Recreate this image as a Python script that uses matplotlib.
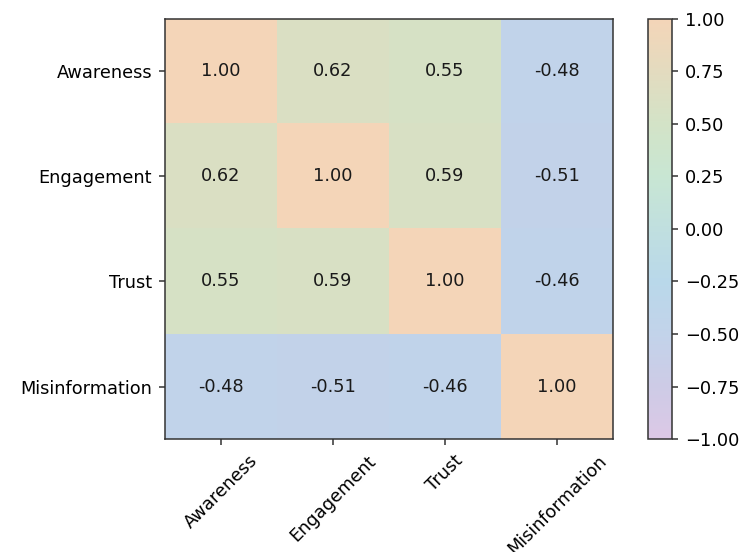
import matplotlib
matplotlib.use("Agg")
import matplotlib.pyplot as plt
import numpy as np
from matplotlib.colors import LinearSegmentedColormap

labels = ["Awareness", "Engagement", "Trust", "Misinformation"]
corr = np.array([
    [1.00, 0.62, 0.55, -0.48],
    [0.62, 1.00, 0.59, -0.51],
    [0.55, 0.59, 1.00, -0.46],
    [-0.48, -0.51, -0.46, 1.00],
])

# pastel diverging map (-1 -> +1)
stops = [0.0, 0.125, 0.25, 0.375, 0.5, 0.625, 0.75, 0.875, 1.0]
stop_colors = ["#dcc8e6", "#cdcbe6", "#c2d3ea", "#b9d8ea", "#c0dfdf",
               "#c8e6d3", "#d3e3c7", "#e3dbbf", "#f4d5b8"]
cmap = LinearSegmentedColormap.from_list("pastel", list(zip(stops, stop_colors)))

fig = plt.figure(figsize=(7.39, 5.52), dpi=100)
ax = fig.add_axes([0.2233, 0.2047, 0.6062, 0.7609])
cax = fig.add_axes([0.8769, 0.2047, 0.0325, 0.7609])

im = ax.imshow(corr, cmap=cmap, vmin=-1, vmax=1, aspect="auto")
ax.set_xticks(range(len(labels)))
ax.set_yticks(range(len(labels)))
ax.set_xticklabels(labels, rotation=45, fontsize=12.8)
ax.set_yticklabels(labels, fontsize=12.8)
ax.tick_params(length=4.6, width=1.1, pad=4.6, color="#333333")
for i in range(len(labels)):
    for j in range(len(labels)):
        ax.text(j, i, f"{corr[i, j]:.2f}", ha="center", va="center",
                fontsize=12.8, color="#1a1a1a")
for s in ax.spines.values():
    s.set_color("#333333")
    s.set_linewidth(1.1)

cb = fig.colorbar(im, cax=cax)
cb.set_ticks([-1, -0.75, -0.5, -0.25, 0, 0.25, 0.5, 0.75, 1])
cb.ax.tick_params(labelsize=12.8, length=4.6, width=1.1, pad=4.6, color="#333333")
cb.outline.set_edgecolor("#333333")
cb.outline.set_linewidth(1.1)

fig.savefig("out.png", dpi=100)
